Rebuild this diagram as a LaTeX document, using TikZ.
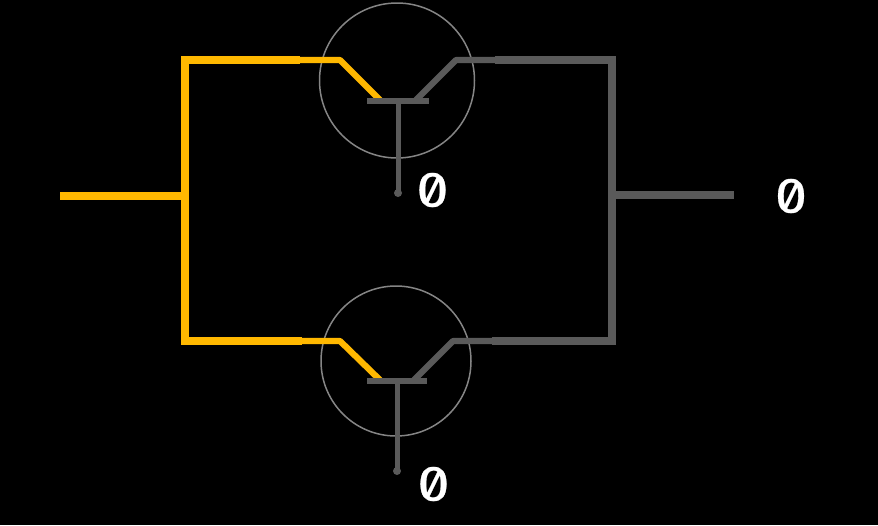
\documentclass[tikz,border=0pt]{standalone}
\usepackage{fontspec}
\newfontfamily\zerofont[RawFeature={+zero;+tnum},FakeStretch=1.2,FakeBold=0.6]{Fira Sans}
\definecolor{wireon}{HTML}{FFB800}
\definecolor{wireoff}{HTML}{5A5A5A}
\definecolor{ringcol}{HTML}{858585}
\tikzset{
  thickwire/.style={line width=8pt,line join=miter,line cap=butt},
  thinwire/.style={line width=6.2pt,line join=round,line cap=butt},
  gatebar/.style={line width=6.5pt,draw=wireoff,line cap=butt},
  stem/.style={line width=5pt,draw=wireoff,line cap=butt},
  ring/.style={circle,draw=ringcol,line width=1.5pt,inner sep=0pt,minimum size=#1},
  dot/.style={circle,fill=wireoff,inner sep=0pt,minimum size=#1},
  val/.style={text=white,font=\zerofont\fontsize{48}{48}\selectfont,inner sep=0pt,anchor=center}
}
\begin{document}
\begin{tikzpicture}[x=1pt,y=-1pt]
\useasboundingbox[fill=black] (0,0) rectangle (878,525);
% rings
\node[ring=155pt] (ringA) at (397,80.5) {};
\node[ring=150pt] (ringB) at (396,361) {};
% points
\coordinate (in) at (60,196);
\coordinate (inJ) at (184.5,196);
\coordinate (tl) at (184.5,60);
\coordinate (bl) at (184.5,341);
\coordinate (aS) at (300,60);
\coordinate (aK) at (340,60);
\coordinate (aE) at (380,100);
\coordinate (bS) at (302,341);
\coordinate (bK) at (340,341);
\coordinate (bE) at (380,380);
\coordinate (aF) at (416,100);
\coordinate (aM) at (456,60);
\coordinate (aO) at (495,60);
\coordinate (bF) at (414,380);
\coordinate (bM) at (453,341);
\coordinate (bO) at (492,341);
\coordinate (tr) at (611.5,60);
\coordinate (br) at (611.5,341);
\coordinate (outJ) at (611.5,194.5);
\coordinate (out) at (734,194.5);
\coordinate (aBarL) at (367,101);
\coordinate (aBarR) at (429,101);
\coordinate (aBarM) at (398,101);
\coordinate (bBarL) at (367,381);
\coordinate (bBarR) at (427,381);
\coordinate (bBarM) at (397,381);
\node[dot=8pt] (aDot) at (398,193) {};
\node[dot=8pt] (bDot) at (397,471) {};
% yellow wires
\draw[thickwire,draw=wireon] (aS) -- (tl) -- (bl) -- (bS);
\draw[thickwire,draw=wireon] (in) -- (inJ);
\draw[thinwire,draw=wireon] (aS) -- (aK) -- (aE);
\draw[thinwire,draw=wireon] (bS) -- (bK) -- (bE);
% grey wires
\draw[thinwire,draw=wireoff] (aF) -- (aM) -- (aO);
\draw[thinwire,draw=wireoff] (bF) -- (bM) -- (bO);
\draw[thickwire,draw=wireoff] (aO) -- (tr) -- (br) -- (bO);
\draw[thickwire,draw=wireoff] (outJ) -- (out);
% transistor bars and stems
\draw[gatebar] (aBarL) -- (aBarR);
\draw[gatebar] (bBarL) -- (bBarR);
\draw[stem] (aBarM) -- (aDot.center);
\draw[stem] (bBarM) -- (bDot.center);
% values
\node[val] (vA) at (432.5,190) {0};
\node[val] (vB) at (433.5,484) {0};
\node[val] (vC) at (791,196) {0};
\end{tikzpicture}
\end{document}
